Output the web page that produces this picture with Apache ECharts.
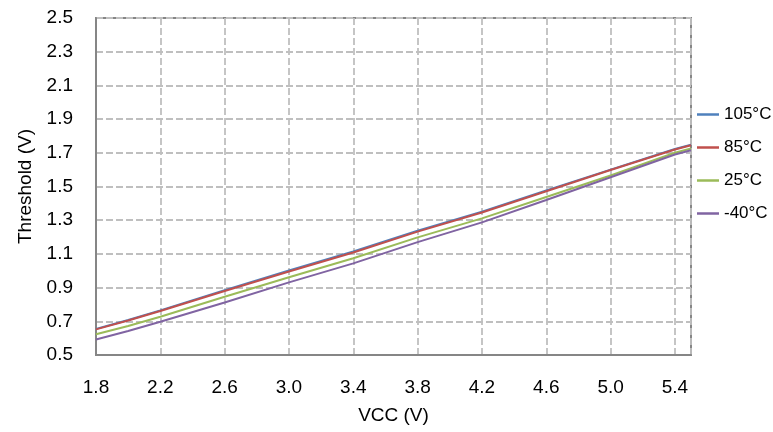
<!DOCTYPE html>
<html>
<head>
<meta charset="utf-8">
<script src="https://cdn.jsdelivr.net/npm/echarts@6/dist/echarts.min.js"></script>
<style>
html,body{margin:0;padding:0;background:#fff;}
#chart{width:773px;height:432px;}
</style>
</head>
<body>
<div id="chart"></div>
<script>
const vcc      = [1.8,   2.0,   2.2,   2.6,   3.0,   3.4,   3.8,   4.2,   4.6,   5.0,   5.4,   5.5];
const t105     = [0.655, 0.708, 0.765, 0.885, 1.001, 1.114, 1.238, 1.351, 1.476, 1.600, 1.723, 1.748];
const t85      = [0.652, 0.705, 0.761, 0.880, 0.996, 1.108, 1.232, 1.346, 1.472, 1.598, 1.720, 1.745];
const t25      = [0.623, 0.672, 0.727, 0.846, 0.961, 1.074, 1.198, 1.311, 1.438, 1.565, 1.700, 1.725];
const tm40     = [0.592, 0.642, 0.697, 0.812, 0.931, 1.044, 1.170, 1.287, 1.420, 1.555, 1.690, 1.715];
const seriesNames = ['105°C', '85°C', '25°C', '-40°C'];
const colors = ['#4F81BD', '#C0504D', '#9BBB59', '#8064A2'];

const zip = arr => vcc.map((x, i) => [x, arr[i]]);
const allData = [t105, t85, t25, tm40];

const chart = echarts.init(document.getElementById('chart'), null, {renderer: 'canvas'});
const font = 'Liberation Sans, Arial, sans-serif';
chart.setOption({
  animation: false,
  grid: {left: 96, right: 82, top: 18, bottom: 77, show: true, borderColor: '#868686', borderWidth: 2},
  xAxis: {
    type: 'value', min: 1.8, max: 5.5, interval: 0.4,
    name: 'VCC (V)', nameLocation: 'middle', nameGap: 51,
    nameTextStyle: {fontFamily: font, fontSize: 19, color: '#000'},
    axisLine: {show: true, lineStyle: {color: '#868686', width: 2}},
    axisTick: {show: false},
    axisLabel: {fontFamily: font, fontSize: 19, color: '#000', margin: 23, showMaxLabel: false,
      formatter: v => v.toFixed(1)},
    splitLine: {show: true, lineStyle: {color: '#BFBFBF', width: 1.8, type: [7, 3]}}
  },
  yAxis: {
    type: 'value', min: 0.5, max: 2.5, interval: 0.2,
    name: 'Threshold (V)', nameLocation: 'middle', nameGap: 58, nameRotate: 90,
    nameTextStyle: {fontFamily: font, fontSize: 19, color: '#000'},
    axisLine: {show: true, lineStyle: {color: '#868686', width: 2}},
    axisTick: {show: false},
    axisLabel: {fontFamily: font, fontSize: 19, color: '#000', margin: 23,
      formatter: v => v.toFixed(1)},
    splitLine: {show: true, lineStyle: {color: '#BFBFBF', width: 1.8, type: [7, 3]}}
  },
  legend: {
    orient: 'vertical', left: 697, top: 106, padding: 0,
    icon: 'rect', itemWidth: 22, itemHeight: 2.5, itemGap: 16,
    textStyle: {fontFamily: font, fontSize: 17, lineHeight: 16, color: '#000'},
    data: seriesNames
  },
  series: seriesNames.map((n, i) => ({
    name: n, type: 'line', data: zip(allData[i]),
    symbol: 'none', smooth: false, color: colors[i],
    lineStyle: {width: 2, color: colors[i]},
    z: 2 + i
  }))
});
</script>
</body>
</html>
